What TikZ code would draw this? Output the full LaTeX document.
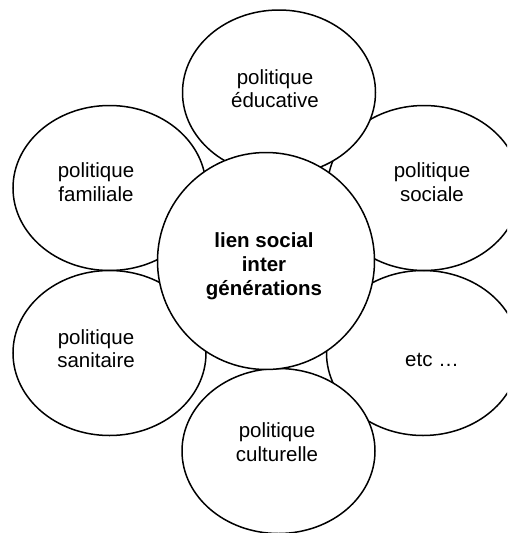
\documentclass[tikz,border=0pt]{standalone}
\usepackage{fontspec}
\setmainfont{Liberation Sans}
\usetikzlibrary{shapes.geometric}
\begin{document}
\begin{tikzpicture}[x=1pt,y=-1pt,
  petal/.style={draw, line width=1.5pt, fill=white, ellipse, minimum width=193pt, minimum height=165pt, inner sep=0pt},
  hub/.style={draw, line width=1.5pt, fill=white, circle, minimum size=217pt, inner sep=0pt},
  lbl/.style={align=center, font=\fontsize{20.5}{23.5}\selectfont, inner sep=0pt},
  hublbl/.style={align=center, font=\fontsize{20.5}{24.2}\selectfont\bfseries, inner sep=0pt}]
\clip (0,0) rectangle (507,533);
\fill[white] (0,0) rectangle (507,533);
\node[petal] (etc) at (423,353) {};
\node[petal] (soc) at (424,188) {};
\node[petal] (fam) at (109.5,188) {};
\node[petal] (san) at (109.5,353) {};
\node[petal] (cul) at (278.5,451) {};
\node[petal] (edu) at (279,92.5) {};
\node[hub] (hub) at (266,261) {};
\node[lbl] (tedu) at (275,88.5) {politique\\éducative};
\node[lbl] (tfam) at (96,182) {politique\\familiale};
\node[lbl] (tsoc) at (432,182) {politique\\sociale};
\node[lbl] (tsan) at (96,348.5) {politique\\sanitaire};
\node[lbl, anchor=base] (tetc) at (432,366.5) {etc …};
\node[lbl] (tcul) at (277,442) {politique\\culturelle};
\node[hublbl] (thub) at (264,266.4) {lien social\\inter\\générations};
\end{tikzpicture}
\end{document}
